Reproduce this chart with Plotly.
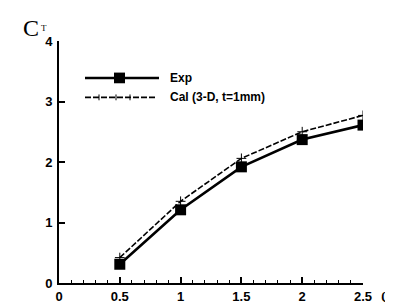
import plotly.graph_objects as go

phi = [0.5, 1.0, 1.5, 2.0, 2.5]
ct_exp = [0.31, 1.21, 1.92, 2.37, 2.61]
ct_cal = [0.42, 1.35, 2.06, 2.50, 2.77]
x_ticks = [0, 0.5, 1, 1.5, 2, 2.5]
x_ticklabels = ["0", "0.5", "1", "1.5", "2", "2.5"]
y_ticks = [0, 1, 2, 3, 4]
y_ticklabels = ["0", "1", "2", "3", "4"]
legend_names = ["Exp", "Cal (3-D, t=1mm)"]

fig = go.Figure()
fig.add_trace(go.Scatter(x=phi, y=ct_cal, mode="lines+markers", name=legend_names[1],
                         line=dict(color="black", width=1.6, dash="6px,2px"),
                         marker=dict(symbol="cross-thin", size=7, line=dict(color="black", width=1)),
                         showlegend=False))
fig.add_trace(go.Scatter(x=phi, y=ct_exp, mode="lines+markers", name=legend_names[0],
                         line=dict(color="black", width=2.6),
                         marker=dict(symbol="square", size=11, color="black"),
                         showlegend=False))

font_b = dict(family="Liberation Sans", size=13, color="black", weight="bold")

fig.update_layout(
    width=393, height=308,
    margin=dict(l=51, r=38, t=33, b=26),
    paper_bgcolor="white", plot_bgcolor="white",
    xaxis=dict(range=[0, 2.5], tickvals=x_ticks, ticktext=x_ticklabels,
               showline=True, linecolor="black", linewidth=2, mirror=False,
               ticks="inside", ticklen=6, tickwidth=1.5, tickcolor="black",
               minor=dict(ticks="inside", dtick=0.1, ticklen=3, tickwidth=1, tickcolor="black"),
               showgrid=False, zeroline=False, tickfont=font_b,
               ticklabelstandoff=0),
    yaxis=dict(range=[0, 4], tickvals=y_ticks, ticktext=y_ticklabels,
               showline=True, linecolor="black", linewidth=2, mirror=False,
               ticks="inside", ticklen=6, tickwidth=1.5, tickcolor="black",
               showgrid=False, zeroline=False, tickfont=font_b,
               ticklabelstandoff=2),
)

def px2paper_x(px):
    return (px - 51) / (393 - 51 - 38)

def px2paper_y(py):
    return (308 - 26 - py) / (308 - 33 - 26)

shapes = []
shapes.append(dict(type="line", xref="paper", yref="paper",
                   x0=px2paper_x(77), x1=px2paper_x(151), y0=px2paper_y(71), y1=px2paper_y(71),
                   line=dict(color="black", width=2.6)))
shapes.append(dict(type="rect", xref="paper", yref="paper",
                   x0=px2paper_x(106), x1=px2paper_x(117), y0=px2paper_y(65.5), y1=px2paper_y(76.5),
                   fillcolor="black", line=dict(width=0)))
shapes.append(dict(type="line", xref="paper", yref="paper",
                   x0=px2paper_x(77), x1=px2paper_x(148), y0=px2paper_y(91), y1=px2paper_y(91),
                   line=dict(color="black", width=1.6, dash="6px,2px")))
for tx in [91, 108, 122]:
    shapes.append(dict(type="line", xref="paper", yref="paper",
                       x0=px2paper_x(tx), x1=px2paper_x(tx), y0=px2paper_y(88), y1=px2paper_y(94),
                       line=dict(color="black", width=1)))
fig.update_layout(shapes=shapes)

annotations = [
    dict(text=legend_names[0], xref="paper", yref="paper",
         x=px2paper_x(160), y=px2paper_y(71), xanchor="left", yanchor="middle",
         showarrow=False, font=dict(family="Liberation Sans", size=12, color="black", weight="bold")),
    dict(text=legend_names[1], xref="paper", yref="paper",
         x=px2paper_x(160), y=px2paper_y(91), xanchor="left", yanchor="middle",
         showarrow=False, font=dict(family="Liberation Sans", size=12, color="black", weight="bold")),
    dict(text="C", xref="paper", yref="paper",
         x=px2paper_x(23), y=px2paper_y(20), xanchor="center", yanchor="middle",
         showarrow=False, font=dict(family="Liberation Serif", size=24, color="black")),
    dict(text="T", xref="paper", yref="paper",
         x=px2paper_x(35.5), y=px2paper_y(20), xanchor="center", yanchor="middle",
         showarrow=False, font=dict(family="Liberation Serif", size=9, color="black")),
    dict(text="φ", xref="paper", yref="paper",
         x=px2paper_x(380), y=px2paper_y(295), xanchor="center", yanchor="middle",
         showarrow=False, font=dict(family="DejaVu Serif", size=18, color="black")),
]
fig.update_layout(annotations=annotations)

fig.write_html("out.html")
